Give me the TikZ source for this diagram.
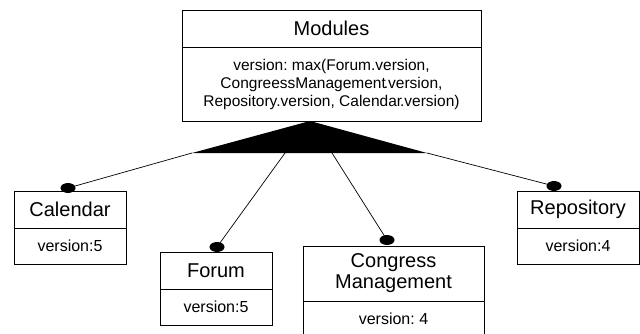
\documentclass[tikz,border=0pt]{standalone}
\usepackage{fontspec}
\setmainfont{Liberation Sans}
\usetikzlibrary{shapes.geometric}
\frenchspacing
\tikzset{
  x=1pt, y=-1pt,
  cell/.style={draw, line width=0.8pt, inner sep=0pt, outer sep=0pt, anchor=north west, align=center},
  titletext/.style={font=\fontsize{20}{21}\selectfont},
  bodytext/.style={font=\fontsize{16}{18}\selectfont},
  dot/.style={ellipse, fill=black, draw=none, minimum width=15pt, minimum height=10pt, inner sep=0pt},
  link/.style={line width=0.7pt},
}
\begin{document}
\begin{tikzpicture}
\useasboundingbox (0,0) rectangle (640,333);
\clip (0,0) rectangle (640,333);
% Modules
\node[cell, titletext, minimum width=299pt, minimum height=37pt] (mhead) at (182,10) {Modules};
\node[cell, font=\fontsize{15.5}{18}\selectfont, minimum width=299pt, minimum height=74pt] (mbody) at (182,47)
  {version: max(Forum.version,\\CongreessManagement\kern-2pt.version,\\Repository.version, Calendar\kern-2pt.version)};
% Calendar
\node[cell, titletext, minimum width=112pt, minimum height=37pt] (chead) at (14,191) {Calendar};
\node[cell, bodytext, minimum width=112pt, minimum height=36pt] (cbody) at (14,228) {version:5};
% Forum
\node[cell, titletext, minimum width=112pt, minimum height=37pt] (fhead) at (160,252) {Forum};
\node[cell, bodytext, minimum width=112pt, minimum height=36pt] (fbody) at (160,289) {version:5};
% Congress Management
\node[cell, titletext, minimum width=181pt, minimum height=55pt] (ghead) at (303,246) {Congress\\Management};
\node[cell, bodytext, minimum width=181pt, minimum height=36pt] (gbody) at (303,301) {version: 4};
% Repository
\node[cell, titletext, minimum width=122pt, minimum height=37pt] (rhead) at (517,191) {Repository};
\node[cell, bodytext, minimum width=122pt, minimum height=36pt] (rbody) at (517,228) {version:4};
% triangle
\coordinate (apex) at (310,121);
\coordinate (bl) at (192,153);
\coordinate (br) at (427,153);
\coordinate (bf) at (285,153);
\coordinate (bg) at (332,153);
\fill[black] (apex) -- (bl) -- (br) -- cycle;
% dots
\node[dot] (dcal) at (68,188) {};
\node[dot] (dfor) at (217,247) {};
\node[dot] (dcon) at (387,240) {};
\node[dot] (drep) at (554,186) {};
% connectors
\draw[link] (bl) -- (dcal.center);
\draw[link] (bf) -- (dfor.center);
\draw[link] (bg) -- (dcon.center);
\draw[link] (br) -- (drep.center);
\end{tikzpicture}
\end{document}
